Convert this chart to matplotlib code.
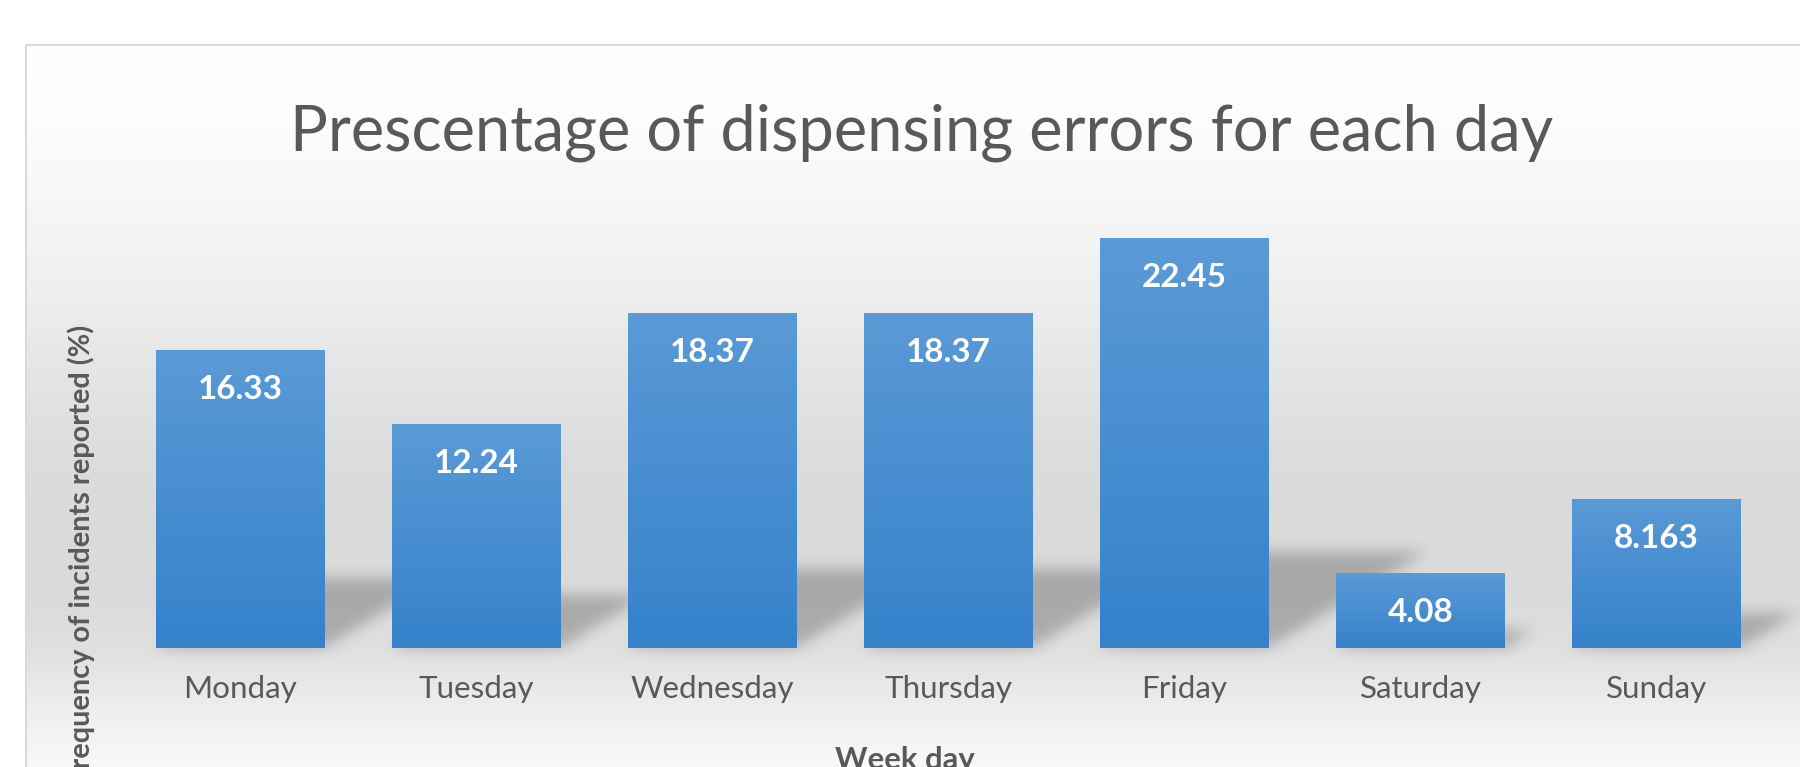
import numpy as np
import matplotlib
matplotlib.use('Agg')
import matplotlib.pyplot as plt
from matplotlib.path import Path

# ---------------- data ----------------
days = ['Monday', 'Tuesday', 'Wednesday', 'Thursday', 'Friday', 'Saturday', 'Sunday']
values = [16.33, 12.24, 18.37, 18.37, 22.45, 4.08, 8.163]
value_labels = ['16.33', '12.24', '18.37', '18.37', '22.45', '4.08', '8.163']
title = 'Prescentage of dispensing errors for each day'
xlabel = 'Week day'
ylabel = 'Frequency of incidents reported (%)'

# ---------------- figure ----------------
W, H = 1800, 767
DPI = 100
FONT = 'Lato'
TXT = '#595959'
PT = 72.0 / DPI  # points per pixel

fig = plt.figure(figsize=(W / DPI, H / DPI), dpi=DPI, facecolor='white')

# background gradient (chart area)
bg = fig.add_axes([0, 0, 1, 1], zorder=0)
bg.set_xlim(0, W)
bg.set_ylim(H, 0)
bg.axis('off')
stops_y = [45, 120, 200, 300, 370, 450, 520, 600, 650, 700, 767]
stops_v = [255, 253, 247, 238, 229, 221, 218, 219, 224, 236, 249]
ys = np.arange(H) + 0.5
g = np.interp(ys, stops_y, stops_v) / 255.0
img = np.ones((H, W, 3))
img[:, :, :] = g[:, None, None]
img[:45, :, :] = 1.0
img[:, :26, :] = 1.0
bg.imshow(img, extent=[0, W, H, 0], origin='upper', aspect='auto',
          interpolation='nearest', zorder=0)
bg.plot([26, 26], [45, H], color='#d9d9d9', lw=2.0 * PT, zorder=3,
        solid_capstyle='butt')
bg.plot([26, W], [45, 45], color='#d9d9d9', lw=2.0 * PT, zorder=3,
        solid_capstyle='butt')

# main axes
ax = fig.add_axes([121.96 / W, 1 - 648 / H, 1652.6 / W, 456.5 / H], zorder=2)
ax.patch.set_alpha(0)
ax.set_xlim(-0.5, len(days) - 0.5)
ax.set_ylim(0, 25)
for s in ax.spines.values():
    s.set_visible(False)
ax.set_yticks([])

x = np.arange(len(days))
bw = 0.712
bars = ax.bar(x, values, width=bw, color='#4a8fd2', zorder=2)

# gradient fill on every bar
top_c = np.array([0x5a, 0x9a, 0xd6]) / 255.0
bot_c = np.array([0x35, 0x82, 0xcb]) / 255.0
grad = np.linspace(0, 1, 256)[:, None, None]
grad_img = top_c * (1 - grad) + bot_c * grad  # row 0 = top
for b, xi, v in zip(bars, x, values):
    im = ax.imshow(grad_img, extent=[xi - bw / 2, xi + bw / 2, 0, v], origin='upper',
                   aspect='auto', interpolation='bilinear', zorder=3)
    im.set_clip_path(b)
ax.set_xlim(-0.5, len(days) - 0.5)
ax.set_ylim(0, 25)

# ---------------- perspective shadows ----------------
def blur1d(a, sigma, axis):
    r = int(3 * sigma)
    k = np.exp(-0.5 * (np.arange(-r, r + 1) / sigma) ** 2)
    k /= k.sum()
    return np.apply_along_axis(lambda m: np.convolve(m, k, mode='same'), axis, a)

mask = np.zeros((H, W))
ptsx, ptsy = np.meshgrid(np.arange(W) + 0.5, np.arange(H) + 0.5)
for xi, v in zip(x, values):
    (L, yb) = ax.transData.transform((xi - bw / 2, 0))
    (R, yt) = ax.transData.transform((xi + bw / 2, v))
    hp = yt - yb
    dx, dy = 0.385 * hp, 0.235 * hp
    verts = [(L, yb), (R, yb), (R + dx, yb + dy), (L + dx, yb + dy)]
    verts_img = [(vx, H - vy) for vx, vy in verts]
    p = Path(verts_img)
    x0 = int(max(0, L - 5)); x1 = int(min(W, R + dx + 5))
    y0 = int(max(0, H - (yb + dy) - 5)); y1 = int(min(H, H - yb + 5))
    sub = np.column_stack([ptsx[y0:y1, x0:x1].ravel(), ptsy[y0:y1, x0:x1].ravel()])
    inside = p.contains_points(sub).reshape(y1 - y0, x1 - x0)
    mask[y0:y1, x0:x1] = np.maximum(mask[y0:y1, x0:x1], inside.astype(float))
mask = blur1d(mask, 7.0, 0)
mask = blur1d(mask, 7.0, 1)
shadow = np.zeros((H, W, 4))
shadow[:, :, 3] = 0.23 * mask
shadow[:45, :, 3] = 0
shadow[:, :27, 3] = 0
bg.imshow(shadow, extent=[0, W, H, 0], origin='upper', aspect='auto',
          interpolation='nearest', zorder=1)
bg.set_xlim(0, W)
bg.set_ylim(H, 0)

# ---------------- text ----------------
renderer = fig.canvas.get_renderer()

def fit(t, target, horizontal=True):
    for _ in range(3):
        bb = t.get_window_extent(renderer)
        w = bb.width if horizontal else bb.height
        t.set_fontsize(t.get_fontsize() * target / w)
    return t.get_fontsize()

# title
t_title = fig.text(922 / W, 1 - 151 / H, title, ha='center', va='baseline',
                   family=FONT, color=TXT, fontsize=40)
fit(t_title, 1263)

# tick labels
ax.set_xticks(x)
ax.set_xticklabels(days, family=FONT, color=TXT, fontsize=20)
ax.tick_params(axis='x', length=0, pad=50 * PT)
labs = ax.get_xticklabels()
for lab in labs:
    lab.set_va('baseline')
tmp = fig.text(0, 0, 'Monday', family=FONT, fontsize=20)
fs_tick = fit(tmp, 114)
tmp.remove()
for lab in labs:
    lab.set_fontsize(fs_tick)

# data labels
tmp = fig.text(0, 0, '16.33', family=FONT, weight='bold', fontsize=22)
fs_val = fit(tmp, 85)
tmp.remove()
for xi, v, s in zip(x, values, value_labels):
    ax.annotate(s, xy=(xi, v), xytext=(0, -49 * PT), textcoords='offset points',
                ha='center', va='baseline', color='white', weight='bold',
                family=FONT, fontsize=fs_val, zorder=5)

# x axis title
tmp = fig.text(0, 0, xlabel, family=FONT, weight='bold', fontsize=20)
fs_xl = fit(tmp, 140)
tmp.remove()
cap_px = 0.7165 * fs_xl / PT
fig.text(905 / W, 1 - (747 + cap_px) / H, xlabel, ha='center', va='baseline',
         family=FONT, weight='bold', color=TXT, fontsize=fs_xl)

# y axis title
tmp = fig.text(0, 0, ylabel[1:], family=FONT, weight='bold', fontsize=20)
fs_yl = fit(tmp, 442)
tmp.remove()
fig.text(81 / W, 1 - 325 / H, ylabel, ha='center', va='top', rotation=90,
         family=FONT, weight='bold', color=TXT, fontsize=fs_yl)

fig.savefig('out.png', dpi=DPI, facecolor='white')
